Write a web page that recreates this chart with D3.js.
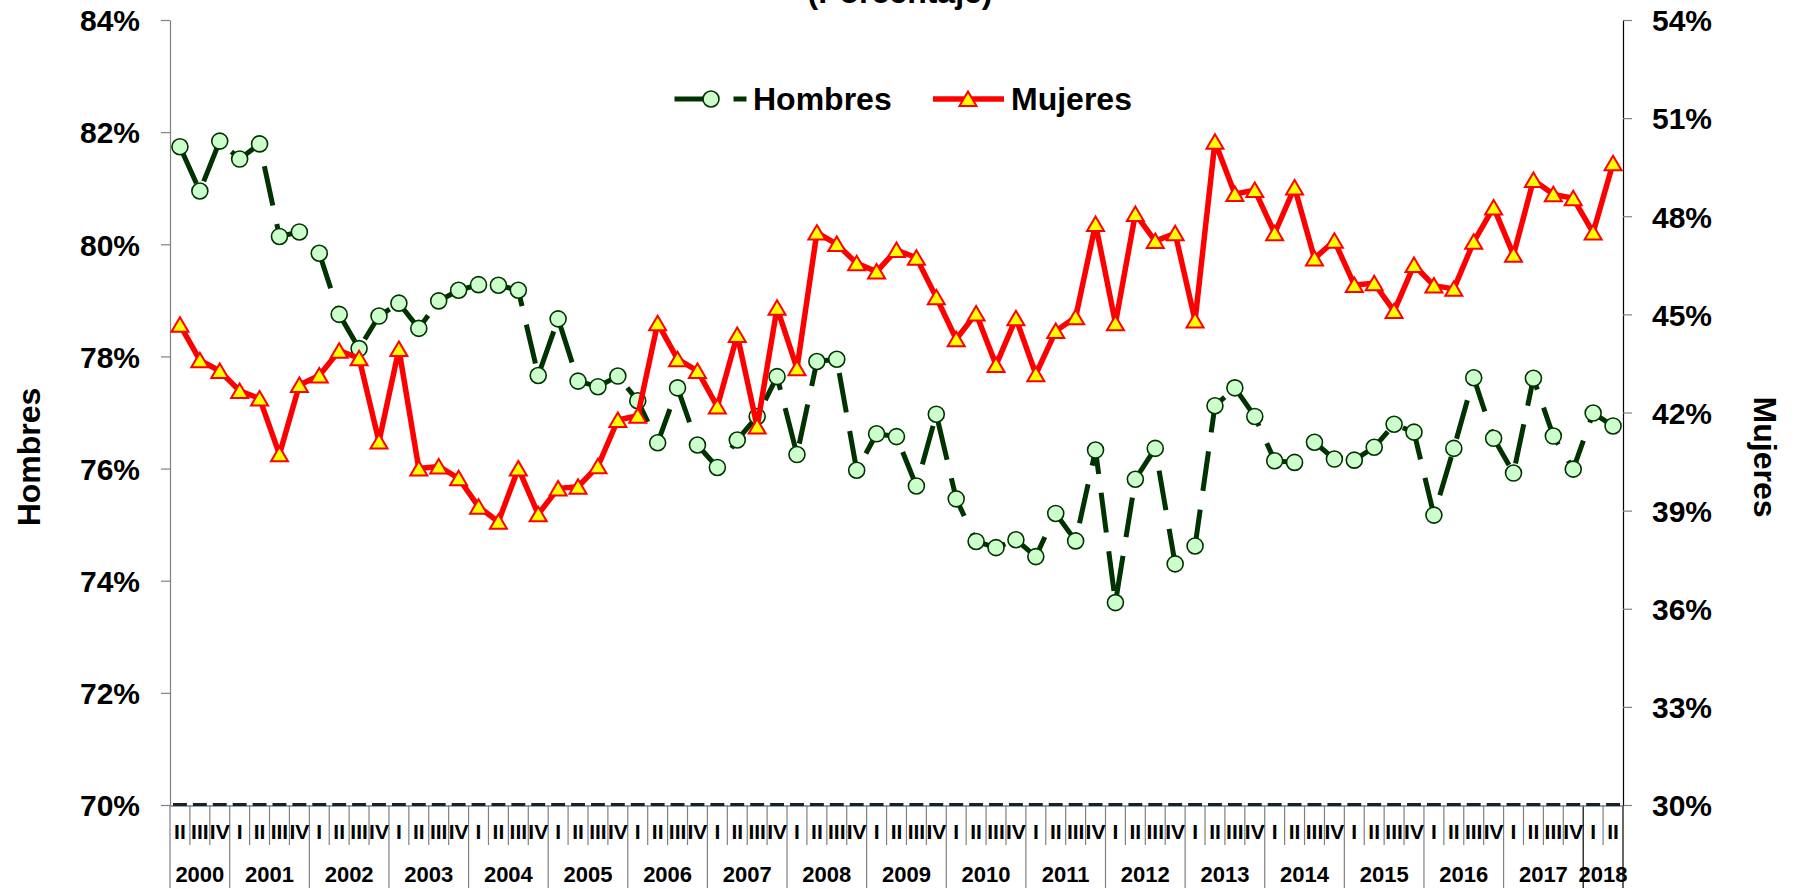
<!DOCTYPE html>
<html>
<head>
<meta charset="utf-8">
<script src="https://cdn.jsdelivr.net/npm/d3@7/dist/d3.min.js"></script>
<style>
  html, body { margin: 0; padding: 0; background: #ffffff; }
  svg { display: block; }
  text { font-family: "Liberation Sans", Arial, Helvetica, sans-serif; font-weight: bold; fill: #000; }
</style>
</head>
<body>
<svg id="chart" width="1801" height="889"></svg>
<script>
// Quarterly periods, 2000-II to 2018-II
const periods = [
  "2000-II","2000-III","2000-IV",
  "2001-I","2001-II","2001-III","2001-IV",
  "2002-I","2002-II","2002-III","2002-IV",
  "2003-I","2003-II","2003-III","2003-IV",
  "2004-I","2004-II","2004-III","2004-IV",
  "2005-I","2005-II","2005-III","2005-IV",
  "2006-I","2006-II","2006-III","2006-IV",
  "2007-I","2007-II","2007-III","2007-IV",
  "2008-I","2008-II","2008-III","2008-IV",
  "2009-I","2009-II","2009-III","2009-IV",
  "2010-I","2010-II","2010-III","2010-IV",
  "2011-I","2011-II","2011-III","2011-IV",
  "2012-I","2012-II","2012-III","2012-IV",
  "2013-I","2013-II","2013-III","2013-IV",
  "2014-I","2014-II","2014-III","2014-IV",
  "2015-I","2015-II","2015-III","2015-IV",
  "2016-I","2016-II","2016-III","2016-IV",
  "2017-I","2017-II","2017-III","2017-IV",
  "2018-I","2018-II"
];

const years = ["2000","2001","2002","2003","2004","2005","2006","2007","2008","2009",
               "2010","2011","2012","2013","2014","2015","2016","2017","2018"];

// Hombres (%), left axis
const hombres = [
  81.74, 80.95, 81.84,
  81.52, 81.79, 80.14, 80.22,
  79.84, 78.75, 78.14, 78.72,
  78.95, 78.50, 78.99, 79.18,
  79.28, 79.27, 79.18, 77.66,
  78.67, 77.56, 77.46, 77.65,
  77.21, 76.46, 77.44, 76.42,
  76.02, 76.51, 76.93, 77.64,
  76.25, 77.91, 77.95, 75.97,
  76.62, 76.57, 75.69, 76.97,
  75.46, 74.70, 74.59, 74.73,
  74.43, 75.20, 74.71, 76.33,
  73.61, 75.81, 76.36, 74.30,
  74.62, 77.12, 77.44, 76.93,
  76.14, 76.11, 76.47, 76.17,
  76.15, 76.38, 76.79, 76.65,
  75.17, 76.36, 77.62, 76.54,
  75.92, 77.61, 76.58, 75.99,
  76.99, 76.76
];

// Mujeres (%), right axis
const mujeres = [
  44.68, 43.60, 43.27,
  42.66, 42.43, 40.72, 42.84,
  43.13, 43.89, 43.66, 41.11,
  43.94, 40.29, 40.35, 39.99,
  39.12, 38.66, 40.29, 38.89,
  39.68, 39.73, 40.36, 41.77,
  41.90, 44.73, 43.63, 43.27,
  42.18, 44.37, 41.57, 45.20,
  43.35, 47.50, 47.15, 46.56,
  46.31, 46.97, 46.73, 45.52,
  44.24, 45.03, 43.45, 44.88,
  43.17, 44.49, 44.91, 47.76,
  44.73, 48.07, 47.24, 47.48,
  44.81, 50.28, 48.68, 48.80,
  47.48, 48.88, 46.71, 47.25,
  45.90, 45.95, 45.10, 46.51,
  45.88, 45.78, 47.22, 48.27,
  46.82, 49.11, 48.67, 48.55,
  47.50, 49.62
];

const leftTicks = [70, 72, 74, 76, 78, 80, 82, 84];
const rightTicks = [30, 33, 36, 39, 42, 45, 48, 51, 54];

const svg = d3.select("#chart");
svg.append("rect").attr("width", 1801).attr("height", 889).attr("fill", "#ffffff");

const plotLeft = 170, plotRight = 1623, plotTop = 20, plotBottom = 805;

const x = d3.scaleBand().domain(periods).range([plotLeft, plotRight]).padding(0);
const bw = x.bandwidth();
const cx = p => x(p) + bw / 2;
const yL = d3.scaleLinear().domain([70, 84]).range([plotBottom, plotTop]);
const yR = d3.scaleLinear().domain([30, 54]).range([plotBottom, plotTop]);

// Title (partly above the top edge)
svg.append("text")
  .attr("x", 900).attr("y", 3)
  .attr("text-anchor", "middle")
  .style("font-size", "32px")
  .text("(Porcentaje)");

// Left axis
const gL = svg.append("g").attr("transform", `translate(${plotLeft},0)`)
  .call(d3.axisLeft(yL).tickValues(leftTicks).tickFormat(d => d + "%")
    .tickSize(9).tickSizeOuter(0).tickPadding(21));
gL.select(".domain").attr("stroke", "#808080").attr("stroke-width", 1.2);
gL.selectAll(".tick line").attr("stroke", "#808080").attr("stroke-width", 1.2);

// Right axis
const gR = svg.append("g").attr("transform", `translate(${plotRight},0)`)
  .call(d3.axisRight(yR).tickValues(rightTicks).tickFormat(d => d + "%")
    .tickSize(9).tickSizeOuter(0).tickPadding(20));
gR.select(".domain").attr("stroke", "#000000").attr("stroke-width", 1.2);
gR.selectAll(".tick line").attr("stroke", "#808080").attr("stroke-width", 1.2);

svg.selectAll(".tick text")
  .attr("font-family", null).attr("font-size", null)
  .style("font-size", "30px").attr("dy", "0.36em");

// Axis titles
svg.append("text")
  .attr("transform", "translate(29,457) rotate(-90)")
  .attr("text-anchor", "middle").attr("dominant-baseline", "central")
  .style("font-size", "32px").text("Hombres");
svg.append("text")
  .attr("transform", "translate(1765,457) rotate(90)")
  .attr("text-anchor", "middle").attr("dominant-baseline", "central")
  .style("font-size", "32px").text("Mujeres");

// Category axis: quarter and year separators
const gX = svg.append("g");
const bounds = periods.map((p, i) => ({ xb: x(p), yearStart: i === 0 || p.endsWith("-I") }));
bounds.push({ xb: plotRight, yearStart: true });
gX.selectAll("line.sep").data(bounds).join("line")
  .attr("class", "sep")
  .attr("x1", d => d.xb).attr("x2", d => d.xb)
  .attr("y1", plotBottom).attr("y2", d => d.yearStart ? 888 : 845)
  .attr("stroke", (d, i) => (i >= bounds.length - 3 && d.yearStart) ? "#000000" : "#808080")
  .attr("stroke-width", 1.2);

// Quarter labels
gX.selectAll("text.q").data(periods).join("text")
  .attr("class", "q")
  .attr("x", d => cx(d)).attr("y", 839)
  .attr("text-anchor", "middle")
  .style("font-size", "21px")
  .text(d => d.split("-")[1]);

// Year labels, centred on each year's quarters
gX.selectAll("text.yr").data(years).join("text")
  .attr("class", "yr")
  .attr("x", yr => {
    const ps = periods.filter(p => p.startsWith(yr));
    return (x(ps[0]) + x(ps[ps.length - 1]) + bw) / 2;
  })
  .attr("y", 882)
  .attr("text-anchor", "middle")
  .style("font-size", "22px")
  .text(d => d);

// Baseline at 70%
gX.append("line")
  .attr("x1", plotLeft).attr("x2", plotRight).attr("y1", plotBottom + 1).attr("y2", plotBottom + 1)
  .attr("stroke", "#6f86a0").attr("stroke-width", 1.5);
gX.selectAll("line.base").data(periods).join("line")
  .attr("class", "base")
  .attr("x1", d => x(d) + 3).attr("x2", d => x(d) + bw - 3)
  .attr("y1", plotBottom - 0.5).attr("y2", plotBottom - 0.5)
  .attr("stroke", "#1b1f27").attr("stroke-width", 3);

// Series data
const hData = periods.map((p, i) => ({ p, v: hombres[i] }));
const mData = periods.map((p, i) => ({ p, v: mujeres[i] }));

const green = "#003300", circleFill = "#ccffcc";
const red = "#ff0000", yellow = "#ffff00";
const triPath = "M0,-7.5L8.5,7L-8.5,7Z";

// Hombres: long-dashed dark green line with circle markers
svg.append("path")
  .datum(hData)
  .attr("d", d3.line().x(d => cx(d.p)).y(d => yL(d.v)))
  .attr("fill", "none").attr("stroke", green).attr("stroke-width", 5)
  .attr("stroke-dasharray", "40,19").attr("stroke-linejoin", "round");
svg.append("g").selectAll("circle").data(hData).join("circle")
  .attr("cx", d => cx(d.p)).attr("cy", d => yL(d.v)).attr("r", 8)
  .attr("fill", circleFill).attr("stroke", green).attr("stroke-width", 1.6);

// Mujeres: solid red line with triangle markers
svg.append("path")
  .datum(mData)
  .attr("d", d3.line().x(d => cx(d.p)).y(d => yR(d.v)))
  .attr("fill", "none").attr("stroke", red).attr("stroke-width", 5.5)
  .attr("stroke-linejoin", "round");
svg.append("g").selectAll("path").data(mData).join("path")
  .attr("transform", d => `translate(${cx(d.p)},${yR(d.v)})`)
  .attr("d", triPath)
  .attr("fill", yellow).attr("stroke", red).attr("stroke-width", 2);

// Legend
const lg = svg.append("g");
lg.append("line").attr("x1", 674.5).attr("x2", 746.5).attr("y1", 99).attr("y2", 99)
  .attr("stroke", green).attr("stroke-width", 5).attr("stroke-dasharray", "40,19");
lg.append("circle").attr("cx", 711).attr("cy", 99).attr("r", 8)
  .attr("fill", circleFill).attr("stroke", green).attr("stroke-width", 1.6);
lg.append("text").attr("x", 753).attr("y", 110).style("font-size", "32px").text("Hombres");
lg.append("line").attr("x1", 933).attr("x2", 1004).attr("y1", 99).attr("y2", 99)
  .attr("stroke", red).attr("stroke-width", 5.5);
lg.append("path").attr("transform", "translate(968,99)").attr("d", triPath)
  .attr("fill", yellow).attr("stroke", red).attr("stroke-width", 2);
lg.append("text").attr("x", 1011).attr("y", 110).style("font-size", "32px").text("Mujeres");
</script>
</body>
</html>
